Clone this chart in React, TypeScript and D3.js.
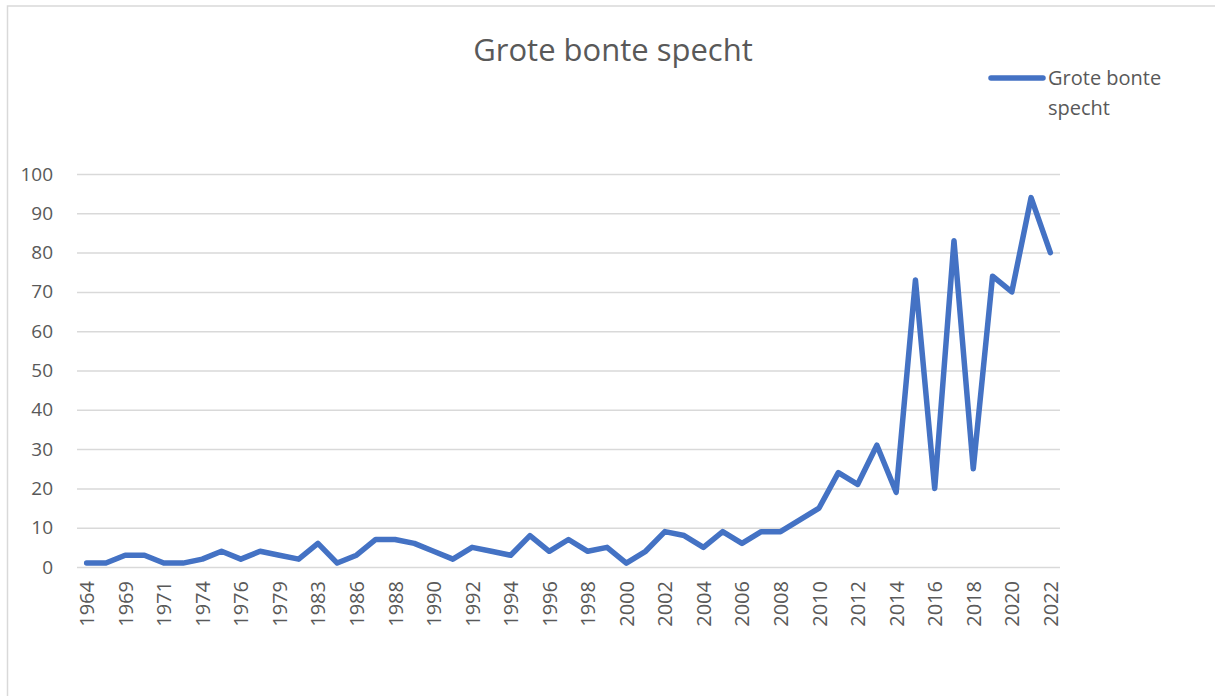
import { useEffect, useRef } from "react";
import * as d3 from "d3";

const years = [
  "1964", "1968", "1969", "1970", "1971", "1973", "1974", "1975", "1976", "1978",
  "1979", "1981", "1983", "1985", "1986", "1987", "1988", "1989", "1990", "1991",
  "1992", "1993", "1994", "1995", "1996", "1997", "1998", "1999", "2000", "2001",
  "2002", "2003", "2004", "2005", "2006", "2007", "2008", "2009", "2010", "2011",
  "2012", "2013", "2014", "2015", "2016", "2017", "2018", "2019", "2020", "2021",
  "2022",
];

const counts = [
  1, 1, 3, 3, 1, 1, 2, 4, 2, 4,
  3, 2, 6, 1, 3, 7, 7, 6, 4, 2,
  5, 4, 3, 8, 4, 7, 4, 5, 1, 4,
  9, 8, 5, 9, 6, 9, 9, 12, 15, 24,
  21, 31, 19, 73, 20, 83, 25, 74, 70, 94,
  80,
];

const yTicks = [0, 10, 20, 30, 40, 50, 60, 70, 80, 90, 100];

const seriesName = "Grote bonte specht";

export default function App() {
  const svgRef = useRef<SVGSVGElement>(null);
  const width = 1215;
  const height = 696;

  useEffect(() => {
    const svg = d3.select(svgRef.current);
    svg.selectAll("*").remove();

    const font = "'Open Sans', sans-serif";
    const textColor = "#595959";
    const plot = { left: 77, right: 1060, top: 174, bottom: 567 };

    // chart frame
    svg.append("rect")
      .attr("x", 7.5)
      .attr("y", 6)
      .attr("width", 1212)
      .attr("height", 700)
      .attr("fill", "white")
      .attr("stroke", "#d9d9d9")
      .attr("stroke-width", 1.5);

    const x = d3.scalePoint<string>()
      .domain(years)
      .range([plot.left, plot.right])
      .padding(0.5);

    const y = d3.scaleLinear()
      .domain([0, 100])
      .range([plot.bottom, plot.top]);

    // gridlines + y labels
    const yAxis = svg.append("g")
      .attr("transform", `translate(${plot.left},0)`)
      .call(d3.axisLeft(y).tickValues(yTicks).tickSize(-(plot.right - plot.left)).tickPadding(24));
    yAxis.select(".domain").remove();
    yAxis.selectAll(".tick line").attr("stroke", "#d9d9d9").attr("stroke-width", 1.5);
    yAxis.selectAll(".tick text")
      .attr("fill", textColor)
      .style("font-family", font)
      .style("font-size", "19px");

    // x labels (every other category)
    const xAxis = svg.append("g")
      .attr("transform", `translate(0,${plot.bottom})`)
      .call(d3.axisBottom(x).tickValues(years.filter((_, i) => i % 2 === 0)).tickSize(0));
    xAxis.select(".domain").remove();
    xAxis.selectAll(".tick text")
      .attr("transform", "rotate(-90)")
      .attr("x", -14)
      .attr("y", 0)
      .attr("dy", "0.35em")
      .style("text-anchor", "end")
      .attr("fill", textColor)
      .style("font-family", font)
      .style("font-size", "20px");

    // line
    const line = d3.line<number>()
      .x((_, i) => x(years[i]) as number)
      .y((d) => y(d));

    svg.append("path")
      .datum(counts)
      .attr("d", line)
      .attr("fill", "none")
      .attr("stroke", "#4472C4")
      .attr("stroke-width", 5.5)
      .attr("stroke-linejoin", "round")
      .attr("stroke-linecap", "round");

    // title
    svg.append("text")
      .attr("x", 613)
      .attr("y", 61)
      .attr("text-anchor", "middle")
      .attr("fill", textColor)
      .style("font-family", font)
      .style("font-size", "31px")
      .text(seriesName);

    // legend
    svg.append("line")
      .attr("x1", 991).attr("x2", 1043)
      .attr("y1", 78).attr("y2", 78)
      .attr("stroke", "#4472C4")
      .attr("stroke-width", 5.5)
      .attr("stroke-linecap", "round");

    const leg = svg.append("text")
      .attr("fill", textColor)
      .style("font-family", font)
      .style("font-size", "20px");
    leg.append("tspan").attr("x", 1048).attr("y", 85).text("Grote bonte");
    leg.append("tspan").attr("x", 1048).attr("y", 115).text("specht");
  }, []);

  return (
    <svg
      ref={svgRef}
      width={width}
      height={height}
      style={{ position: "absolute", left: 0, top: 0, display: "block", background: "white" }}
    />
  );
}
